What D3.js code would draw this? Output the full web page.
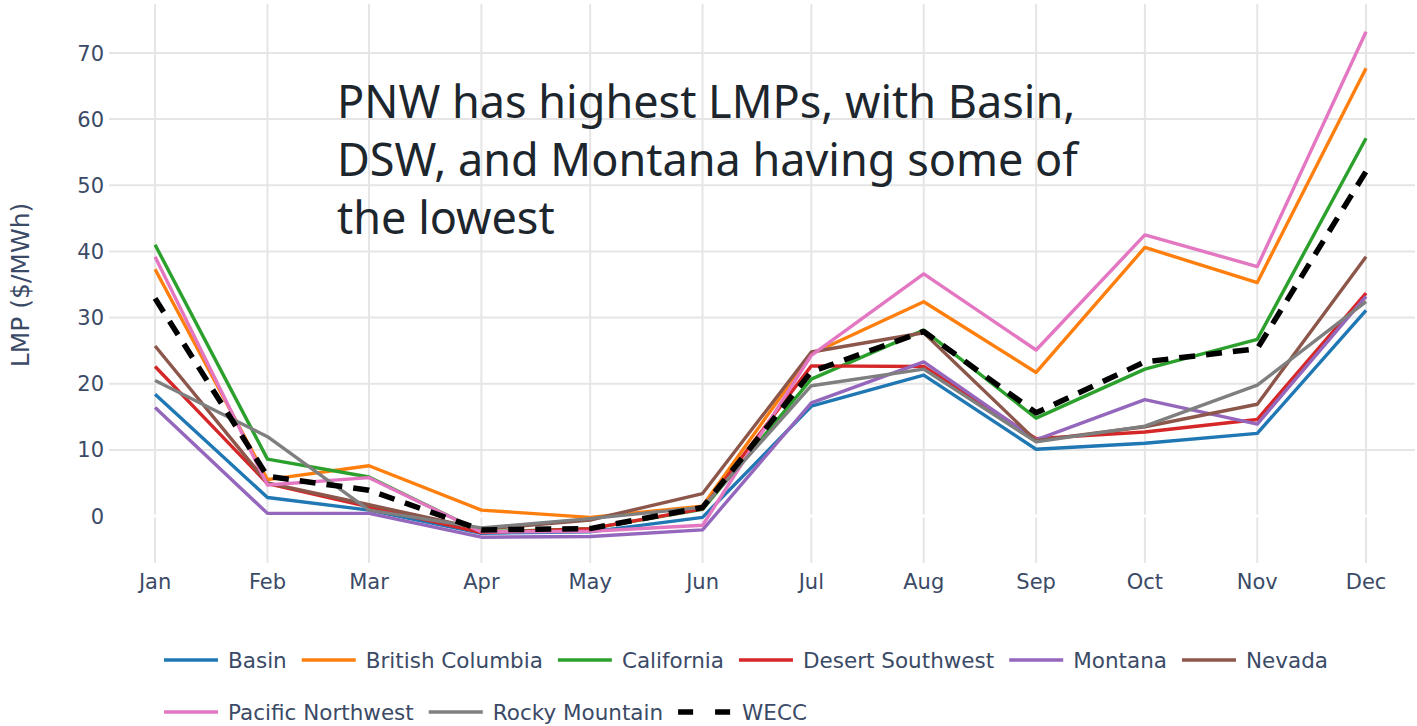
<!DOCTYPE html>
<html>
<head>
<meta charset="utf-8">
<script src="https://cdn.jsdelivr.net/npm/d3@7"></script>
<style>
  body { margin: 0; background: #fff; }
  svg { display: block; }
  .tick-label { font-family: "DejaVu Sans", Verdana, sans-serif; font-size: 21px; fill: #3b4a66; }
  .legend-label { font-family: "DejaVu Sans", Verdana, sans-serif; font-size: 21.5px; fill: #3b4a66; }
  .note { font-family: "Noto Sans", "Open Sans", sans-serif; font-size: 45px; fill: #1d262d; }
</style>
</head>
<body>
<div id="chart"></div>
<script>
// monthly average LMP by region ($/MWh)
const months = ["Jan", "Feb", "Mar", "Apr", "May", "Jun", "Jul", "Aug", "Sep", "Oct", "Nov", "Dec"];
const yTicks = [0, 10, 20, 30, 40, 50, 60, 70];

const basin       = [18.4, 2.8, 0.9, -2.6, -2.4, -0.2, 16.6, 21.3, 10.1, 11.0, 12.5, 31.1];
const britishCol  = [37.3, 5.5, 7.6, 0.9, -0.2, 1.5, 24.5, 32.4, 21.7, 40.6, 35.3, 67.7];
const california  = [41.0, 8.6, 5.9, -2.4, -1.9, 1.0, 20.7, 28.1, 14.8, 22.2, 26.7, 57.1];
const desertSW    = [22.6, 4.9, 1.4, -2.5, -1.9, 1.1, 22.7, 22.6, 11.7, 12.7, 14.6, 33.7];
const montana     = [16.4, 0.4, 0.4, -3.2, -3.1, -2.1, 17.1, 23.3, 11.5, 17.6, 13.9, 33.2];
const nevada      = [25.7, 5.0, 1.7, -2.0, -0.6, 3.4, 24.8, 27.7, 11.4, 13.5, 16.9, 39.2];
const pacificNW   = [39.2, 4.7, 5.8, -2.4, -2.3, -1.4, 24.3, 36.6, 25.1, 42.5, 37.7, 73.2];
const rockyMtn    = [20.5, 12.0, 0.9, -1.8, -0.4, 1.3, 19.7, 22.2, 11.2, 13.6, 19.8, 32.4];
const wecc        = [32.9, 6.0, 3.9, -2.1, -1.9, 1.3, 21.8, 27.9, 15.6, 23.3, 25.3, 52.1];

const series = [
  { name: "Basin", values: basin, color: "#1f77b4" },
  { name: "British Columbia", values: britishCol, color: "#ff7f0e" },
  { name: "California", values: california, color: "#2ca02c" },
  { name: "Desert Southwest", values: desertSW, color: "#d62728" },
  { name: "Montana", values: montana, color: "#9467bd" },
  { name: "Nevada", values: nevada, color: "#8c564b" },
  { name: "Pacific Northwest", values: pacificNW, color: "#e377c2" },
  { name: "Rocky Mountain", values: rockyMtn, color: "#7f7f7f" },
  { name: "WECC", values: wecc, color: "#000000", dashed: true }
];

const noteLines = [
  "PNW has highest LMPs, with Basin,",
  "DSW, and Montana having some of",
  "the lowest"
];

const width = 1417, height = 726;
const plot = { left: 109, right: 1415, top: 4, bottom: 563 };

const dates = months.map((m, i) => new Date(Date.UTC(2021, i, 1)));

const svg = d3.select("#chart").append("svg")
  .attr("width", width)
  .attr("height", height);

// date axis, so month spacing follows month length
const x = d3.scaleUtc()
  .domain([new Date(Date.UTC(2020, 11, 19, 7)), new Date(Date.UTC(2021, 11, 14, 12))])
  .range([plot.left, plot.right]);

const y = d3.scaleLinear()
  .domain([-7.1, 77.4])
  .range([plot.bottom, plot.top]);

// grid
let grid = svg.append("g");

grid.selectAll(".vgrid")
  .data(dates)
.enter().append("line")
  .attr("x1", d => x(d)).attr("x2", d => x(d))
  .attr("y1", plot.top).attr("y2", plot.bottom)
  .attr("stroke", "#e5e5e5")
  .attr("stroke-width", 2);

grid.selectAll(".hgrid")
  .data(yTicks.filter(d => d !== 0))
.enter().append("line")
  .attr("x1", plot.left).attr("x2", plot.right)
  .attr("y1", d => y(d)).attr("y2", d => y(d))
  .attr("stroke", "#e5e5e5")
  .attr("stroke-width", 2);

// white zero line cuts through the vertical grid
grid.append("line")
  .attr("x1", plot.left).attr("x2", plot.right)
  .attr("y1", y(0)).attr("y2", y(0))
  .attr("stroke", "#ffffff")
  .attr("stroke-width", 3);

// tick labels
svg.append("g").selectAll("text")
  .data(yTicks)
.enter().append("text")
  .attr("class", "tick-label")
  .attr("x", plot.left - 5)
  .attr("y", d => y(d))
  .attr("dy", "0.36em")
  .attr("text-anchor", "end")
  .text(d => d);

svg.append("g").selectAll("text")
  .data(dates)
.enter().append("text")
  .attr("class", "tick-label")
  .attr("x", d => x(d))
  .attr("y", 589)
  .attr("text-anchor", "middle")
  .text((d, i) => months[i]);

svg.append("text")
  .attr("class", "tick-label")
  .attr("transform", "translate(29," + 285 + ") rotate(-90)")
  .attr("text-anchor", "middle")
  .style("font-size", "25px")
  .text("LMP ($/MWh)");

// lines
let line = d3.line()
  .x((d, i) => x(dates[i]))
  .y(d => y(d));

svg.append("g").selectAll("path")
  .data(series)
.enter().append("path")
  .attr("d", d => line(d.values))
  .attr("fill", "none")
  .attr("stroke", d => d.color)
  .attr("stroke-width", d => d.dashed ? 5.5 : 3.4)
  .attr("stroke-dasharray", d => d.dashed ? "16,11" : null)
  .attr("stroke-linejoin", "round");

// annotation
svg.append("text")
  .attr("class", "note")
  .selectAll("tspan")
  .data(noteLines)
.enter().append("tspan")
  .attr("x", 337)
  .attr("y", (d, i) => 118 + i * 58)
  .text(d => d);

// legend, two rows
let legend = svg.append("g");
let rows = [series.slice(0, 6), series.slice(6)];
rows.forEach(function(row, r) {
  let cx = 164;
  let ly = 660 + r * 52;
  row.forEach(function(s) {
    legend.append("line")
      .attr("x1", cx).attr("x2", cx + 54)
      .attr("y1", ly).attr("y2", ly)
      .attr("stroke", s.color)
      .attr("stroke-width", s.dashed ? 5.5 : 3.5)
      .attr("stroke-dasharray", s.dashed ? "15,22" : null);

    let t = legend.append("text")
      .attr("class", "legend-label")
      .attr("x", cx + 64)
      .attr("y", ly)
      .attr("dy", "0.36em")
      .text(s.name);

    cx += 64 + t.node().getComputedTextLength() + 15;
  });
});
</script>
</body>
</html>
